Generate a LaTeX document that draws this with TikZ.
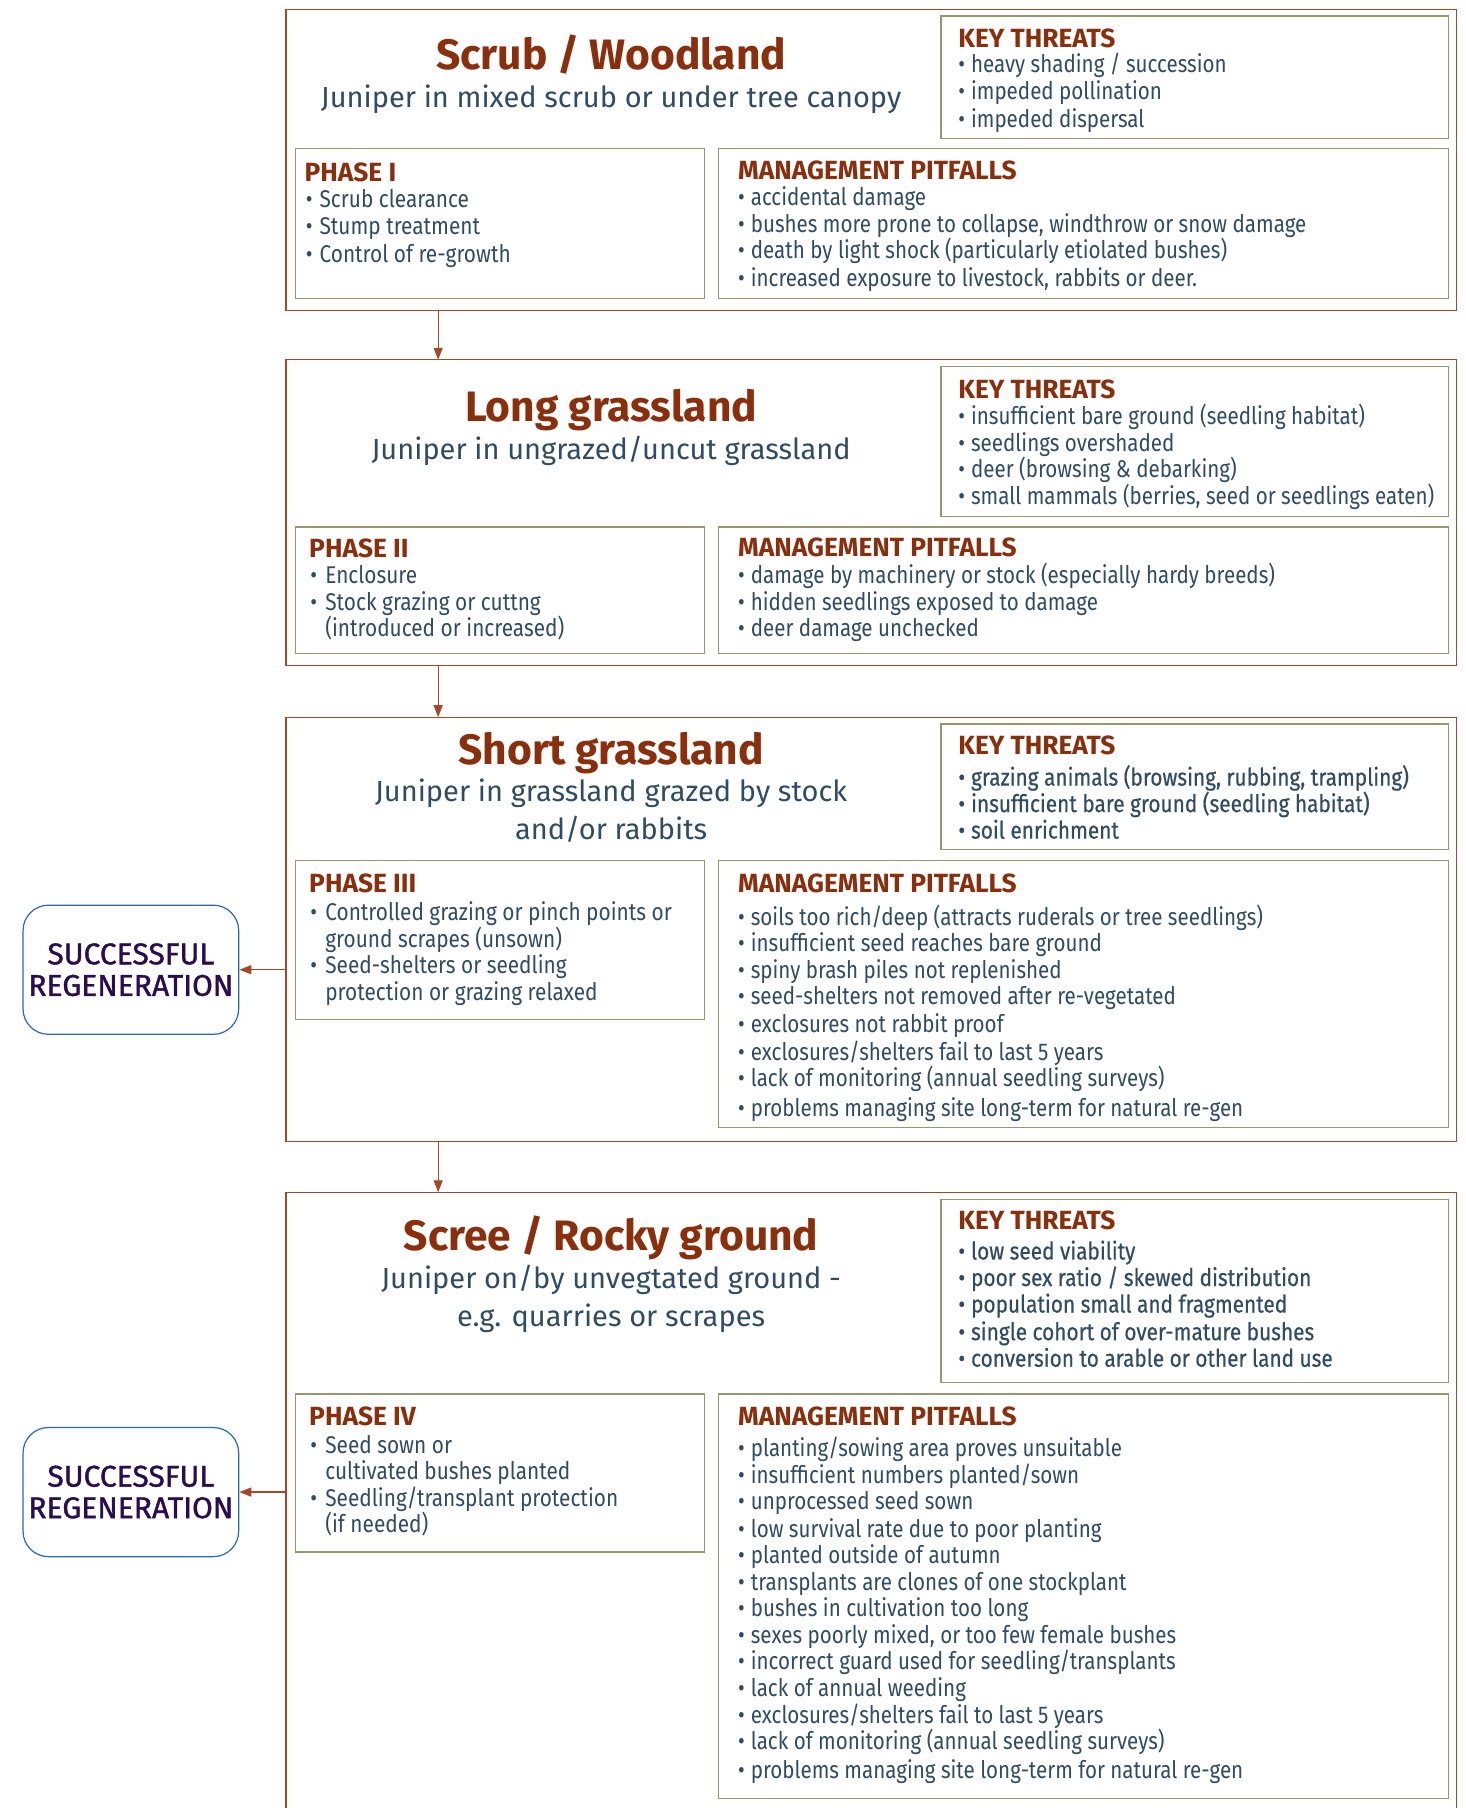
\documentclass[tikz,border=0pt]{standalone}
\usepackage{fontspec}
\setmainfont{Fira Sans}
\newfontfamily\ktfont[FakeStretch=0.85]{Fira Sans}
\newfontfamily\ktbfont[FakeStretch=0.86,FakeBold=0.5]{Fira Sans}
\newfontfamily\mpfont[FakeStretch=0.85]{Fira Sans}
\newfontfamily\phfont[FakeStretch=0.86]{Fira Sans}
\newfontfamily\regfont[FakeBold=1.2]{Fira Sans}
\usetikzlibrary{arrows.meta}
\newlength\pxu \setlength\pxu{1.1526pt}
\definecolor{rust}{RGB}{139,46,12}
\definecolor{slate}{RGB}{47,76,100}
\definecolor{outerc}{RGB}{165,72,40}
\definecolor{innerc}{RGB}{150,150,112}
\definecolor{regenc}{RGB}{44,102,190}
\definecolor{regent}{RGB}{42,12,80}
\newcommand\bul[1]{\makebox[#1\pxu][l]{\textbullet}}
\newcommand\boxnode[6]{\node[#2, minimum width={(#5-#3)*\pxu}, minimum height={(#6-#4)*\pxu}] (#1) at (#3,#4) {};}
\tikzset{
  outerbox/.style={draw=outerc, line width=1.3pt, anchor=north west, inner sep=0pt, outer sep=0pt},
  openbox/.style={anchor=north west, inner sep=0pt, outer sep=0pt},
  outerline/.style={draw=outerc, line width=1.3pt},
  innerbox/.style={draw=innerc, line width=1.3pt, anchor=north west, inner sep=0pt, outer sep=0pt},
  regen/.style={draw=regenc, line width=1.2pt, rounded corners=22\pxu, minimum width=187\pxu, minimum height=112\pxu, align=center, text=regent, inner sep=0pt, font=\regfont\fontsize{30pt}{31.5pt}\selectfont},
  title/.style={anchor=mid, inner sep=0pt, text=rust, yshift=-9\pxu, font=\bfseries\fontsize{42.5pt}{48pt}\selectfont},
  subtitle/.style={anchor=mid, inner sep=0pt, text=slate, yshift=-7\pxu, font=\fontsize{29pt}{32pt}\selectfont},
  head/.style={anchor=mid west, inner sep=0pt, text=rust, yshift=-6\pxu, font=\bfseries\fontsize{26.3pt}{28pt}\selectfont},
  kt/.style={anchor=mid west, inner sep=0pt, text=slate, yshift=-5\pxu, font=\ktfont\fontsize{24.2pt}{26pt}\selectfont},
  ktb/.style={kt, font=\ktbfont\fontsize{24.2pt}{26pt}\selectfont},
  mp/.style={anchor=mid west, inner sep=0pt, text=slate, yshift=-5\pxu, font=\mpfont\fontsize{24.2pt}{26pt}\selectfont},
  ph/.style={anchor=mid west, inner sep=0pt, text=slate, yshift=-5\pxu, font=\phfont\fontsize{24.2pt}{26pt}\selectfont},
  arr/.style={draw=outerc, line width=1.3pt, -{Triangle[length=12pt,width=9pt]}, color=outerc}
}
\begin{document}
\begin{tikzpicture}[x=1.1526pt,y=-1.1526pt]
\useasboundingbox[fill=white] (0,0) rectangle (1271,1568);
\coordinate (ax) at (380,0);

% ---------------- Block 1
\boxnode{b1}{outerbox}{248}{8}{1263}{269}
\boxnode{kt1}{innerbox}{816}{14}{1256}{120}
\boxnode{ph1}{innerbox}{256}{129}{611}{259}
\boxnode{mp1}{innerbox}{623}{129}{1256}{259}
\node[title] (t1) at (530,49) {Scrub / Woodland};
\node[subtitle] (s1) at (530,84) {Juniper in mixed scrub or under tree canopy};
\node[head] (kth1) at (831,33) {KEY THREATS};
\foreach \yy/\t [count=\i] in {56/{heavy shading / succession},79/{impeded pollination},103/{impeded dispersal}}
  \node[kt] (kti1-\i) at (831,\yy) {\bul{11}\t};
\node[head] (phh1) at (264,149) {PHASE I};
\foreach \yy/\t [count=\i] in {173/{Scrub clearance},196/{Stump treatment},220/{Control of re-growth}}
  \node[ph] (phi1-\i) at (265,\yy) {\bul{12}\t};
\node[head] (mph1) at (640,147) {MANAGEMENT PITFALLS};
\foreach \yy/\t [count=\i] in {171/{accidental damage},194/{bushes more prone to collapse, windthrow or snow damage},217/{death by light shock (particularly etiolated bushes)},241/{increased exposure to livestock, rabbits or deer.}}
  \node[mp] (mpi1-\i) at (640,\yy) {\bul{11}\t};

% ---------------- Block 2
\boxnode{b2}{outerbox}{248}{312}{1263}{577}
\boxnode{kt2}{innerbox}{816}{318}{1256}{448}
\boxnode{ph2}{innerbox}{256}{457}{611}{567}
\boxnode{mp2}{innerbox}{623}{457}{1256}{567}
\node[title] (t2) at (530,354) {Long grassland};
\node[subtitle] (s2) at (530,389) {Juniper in ungrazed/uncut grassland};
\node[head] (kth2) at (831,337) {KEY THREATS};
\foreach \yy/\t [count=\i] in {361/{insufficient bare ground (seedling habitat)},384/{seedlings overshaded},407/{deer (browsing \& debarking)},430/{small mammals (berries, seed or seedlings eaten)}}
  \node[kt] (kti2-\i) at (831,\yy) {\bul{11}\t};
\node[head] (phh2) at (268,475) {PHASE II};
\node[ph] (phi2-1) at (269,499) {\bul{13}Enclosure};
\node[ph] (phi2-2) at (269,522) {\bul{13}Stock grazing or cuttng};
\node[ph] (phi2-3) at (282,545) {(introduced or increased)};
\node[head] (mph2) at (640,474) {MANAGEMENT PITFALLS};
\foreach \yy/\t [count=\i] in {499/{damage by machinery or stock (especially hardy breeds)},522/{hidden seedlings exposed to damage},545/{deer damage unchecked}}
  \node[mp] (mpi2-\i) at (640,\yy) {\bul{11}\t};

% ---------------- Block 3
\boxnode{b3}{outerbox}{248}{622}{1263}{990}
\boxnode{kt3}{innerbox}{816}{628}{1256}{737}
\boxnode{ph3}{innerbox}{256}{746}{611}{884}
\boxnode{mp3}{innerbox}{623}{746}{1256}{978}
\node[title] (t3) at (530,652) {Short grassland};
\node[subtitle] (s3a) at (530,686) {Juniper in grassland grazed by stock};
\node[subtitle] (s3b) at (530,719) {and/or rabbits};
\node[head] (kth3) at (831,646) {KEY THREATS};
\foreach \yy/\t [count=\i] in {674/{grazing animals (browsing, rubbing, trampling)},697/{insufficient bare ground (seedling habitat)},720/{soil enrichment}}
  \node[ktb] (kti3-\i) at (831,\yy) {\bul{11}\t};
\node[head] (phh3) at (268,766) {PHASE III};
\node[ph] (phi3-1) at (269,791) {\bul{13}Controlled grazing or pinch points or};
\node[ph] (phi3-2) at (282,814) {ground scrapes (unsown)};
\node[ph] (phi3-3) at (269,837) {\bul{13}Seed-shelters or seedling};
\node[ph] (phi3-4) at (282,860) {protection or grazing relaxed};
\node[head] (mph3) at (640,766) {MANAGEMENT PITFALLS};
\foreach \yy/\t [count=\i] in {795/{soils too rich/deep (attracts ruderals or tree seedlings)},818/{insufficient seed reaches bare ground},841/{spiny brash piles not replenished},864/{seed-shelters not removed after re-vegetated},888/{exclosures not rabbit proof},912/{exclosures/shelters fail to last 5 years},935/{lack of monitoring (annual seedling surveys)},961/{problems managing site long-term for natural re-gen}}
  \node[mp] (mpi3-\i) at (640,\yy) {\bul{11}\t};
\node[regen] (r1) at (113.5,841) {SUCCESSFUL\\REGENERATION};

% ---------------- Block 4
\boxnode{b4}{openbox}{248}{1034}{1263}{1575}
\draw[outerline] (b4.south west) -- (b4.north west) -- (b4.north east) -- (b4.south east);
\boxnode{kt4}{innerbox}{816}{1040}{1256}{1199}
\boxnode{ph4}{innerbox}{256}{1209}{611}{1346}
\boxnode{mp4}{innerbox}{623}{1209}{1256}{1560}
\node[title] (t4) at (530,1073) {Scree / Rocky ground};
\node[subtitle] (s4a) at (530,1108) {Juniper on/by unvegtated ground -};
\node[subtitle] (s4b) at (530,1141) {e.g. quarries or scrapes};
\node[head] (kth4) at (831,1058) {KEY THREATS};
\foreach \yy/\t [count=\i] in {1085/{low seed viability},1108/{poor sex ratio / skewed distribution},1131/{population small and fragmented},1155/{single cohort of over-mature bushes},1178/{conversion to arable or other land use}}
  \node[ktb] (kti4-\i) at (831,\yy) {\bul{11}\t};
\node[head] (phh4) at (268,1228) {PHASE IV};
\node[ph] (phi4-1) at (269,1253) {\bul{13}Seed sown or};
\node[ph] (phi4-2) at (282,1276) {cultivated bushes planted};
\node[ph] (phi4-3) at (269,1299) {\bul{13}Seedling/transplant protection};
\node[ph] (phi4-4) at (282,1322) {(if needed)};
\node[head] (mph4) at (640,1228) {MANAGEMENT PITFALLS};
\foreach \yy/\t [count=\i] in {1256/{planting/sowing area proves unsuitable},1279/{insufficient numbers planted/sown},1302/{unprocessed seed sown},1326/{low survival rate due to poor planting},1349/{planted outside of autumn},1372/{transplants are clones of one stockplant},1395/{bushes in cultivation too long},1418/{sexes poorly mixed, or too few female bushes},1441/{incorrect guard used for seedling/transplants},1464/{lack of annual weeding},1487/{exclosures/shelters fail to last 5 years},1510/{lack of monitoring (annual seedling surveys)},1535/{problems managing site long-term for natural re-gen}}
  \node[mp] (mpi4-\i) at (640,\yy) {\bul{11}\t};
\node[regen] (r2) at (113.5,1294) {SUCCESSFUL\\REGENERATION};

% ---------------- Connectors
\draw[arr] (b1.south -| ax) -- (b2.north -| ax);
\draw[arr] (b2.south -| ax) -- (b3.north -| ax);
\draw[arr] (b3.south -| ax) -- (b4.north -| ax);
\draw[arr] (b3.west |- r1) -- (r1.east);
\draw[arr] (b4.west |- r2) -- (r2.east);
\end{tikzpicture}
\end{document}
